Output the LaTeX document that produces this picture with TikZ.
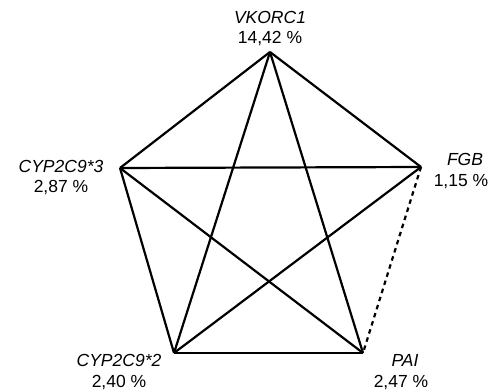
\documentclass[tikz,border=0pt]{standalone}
\usepackage{fontspec}
\setmainfont{Liberation Sans}
\begin{document}
\begin{tikzpicture}[x=1pt,y=-1pt,
  edge/.style={line width=2.2pt, black},
  dedge/.style={line width=2.2pt, black, dash pattern=on 4.5pt off 4pt},
  lab/.style={align=center, font=\fontsize{17.5}{20.5}\selectfont, inner sep=0pt}]
\useasboundingbox (0,0) rectangle (492,390);
\coordinate (V) at (270,52);
\coordinate (F) at (421,167);
\coordinate (C3) at (120,168);
\coordinate (C2) at (174,353);
\coordinate (P) at (363,353);
\draw[edge] (V) -- (F);
\draw[edge] (V) -- (C3);
\draw[edge] (V) -- (C2);
\draw[edge] (V) -- (P);
\draw[edge] (F) -- (C3);
\draw[edge] (F) -- (C2);
\draw[dedge] (F) -- (P);
\draw[edge] (C3) -- (C2);
\draw[edge] (C3) -- (P);
\draw[edge] (C2) -- (P);
\node[lab, anchor=base] (lV) at (270,44) {\textit{VKORC1}\\14,42 \%};
\node[lab, anchor=base] (lF) at (461,186) {\hspace*{8pt}\textit{FGB}\\1,15 \%};
\node[lab, anchor=base] (lC3) at (61,193) {\textit{CYP2C9*3}\\2,87 \%};
\node[lab, anchor=base] (lC2) at (119,387) {\textit{CYP2C9*2}\\2,40 \%};
\node[lab, anchor=base] (lP) at (401,387) {\textit{PAI}\hspace*{-8pt}\\2,47 \%};
\end{tikzpicture}
\end{document}
